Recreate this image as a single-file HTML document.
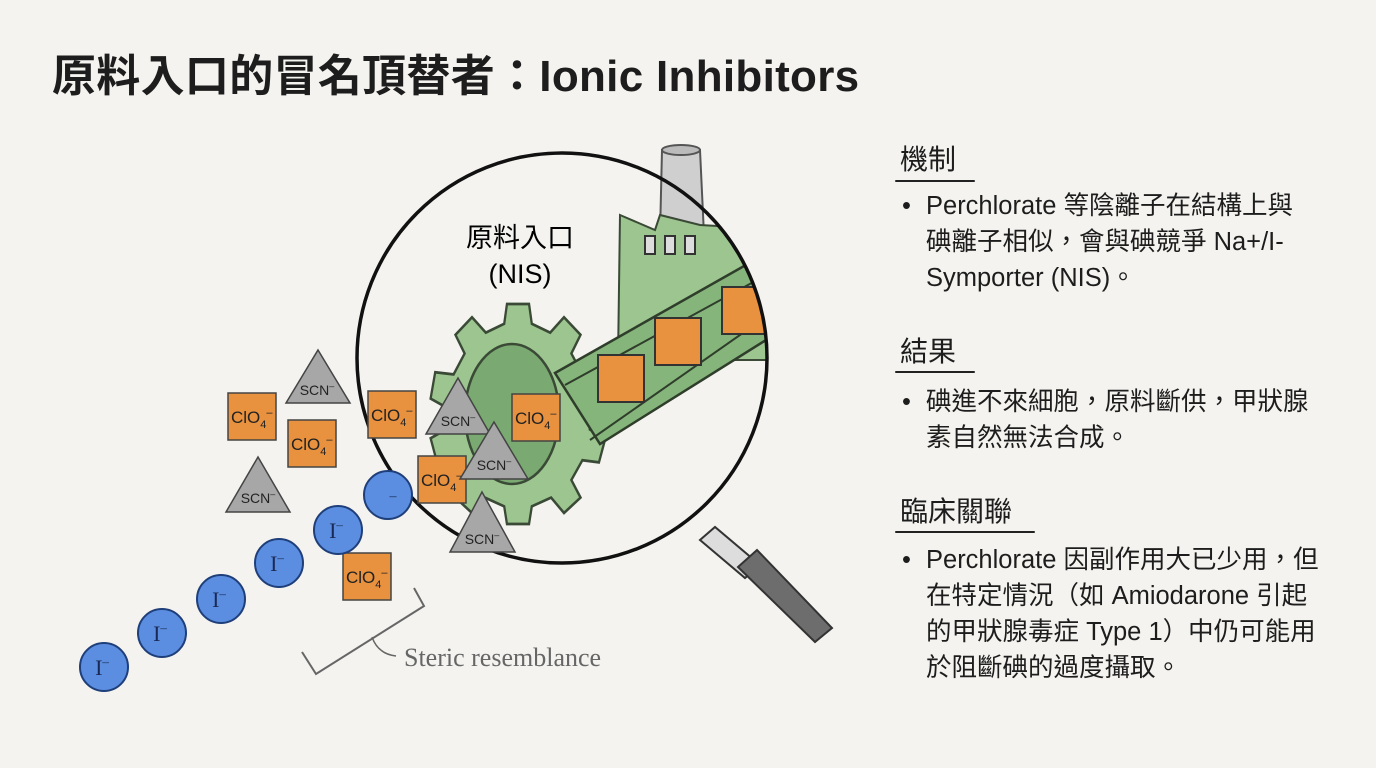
<!DOCTYPE html>
<html><head><meta charset="utf-8"><style>
body{margin:0;width:1376px;height:768px;background:#f4f3ef;overflow:hidden;position:relative;font-family:"Liberation Sans","Noto Sans CJK TC",sans-serif;color:#1d1d1d}
h1{position:absolute;left:52px;top:40px;margin:0;font-size:44px;font-weight:bold;letter-spacing:0.3px;white-space:nowrap}
.h{position:absolute;left:900px;font-size:28px}
.ul{position:absolute;height:2px;background:#222;border-radius:2px}
.b{position:absolute;left:902px;font-size:25.5px;line-height:36px;width:408px}
.b span.d{position:absolute;left:0}
.b div{padding-left:24px}
</style></head><body>
<h1>原料入口的冒名頂替者：Ionic Inhibitors</h1>

<div class="h" style="top:138px">機制</div><div class="ul" style="left:895px;top:180px;width:80px"></div>
<div class="b" style="top:188px"><span class="d">•</span><div>Perchlorate 等陰離子在結構上與碘離子相似，會與碘競爭 Na+/I-Symporter (NIS)。</div></div>

<div class="h" style="top:330px">結果</div><div class="ul" style="left:895px;top:371px;width:80px"></div>
<div class="b" style="top:384px"><span class="d">•</span><div>碘進不來細胞，原料斷供，甲狀腺素自然無法合成。</div></div>

<div class="h" style="top:490px">臨床關聯</div><div class="ul" style="left:895px;top:531px;width:140px"></div>
<div class="b" style="top:542px;width:424px"><span class="d">•</span><div>Perchlorate 因副作用大已少用，但在特定情況（如 Amiodarone 引起的甲狀腺毒症 Type 1）中仍可能用於阻斷碘的過度攝取。</div></div>

<svg width="1376" height="768" style="position:absolute;left:0;top:0" font-family="Liberation Sans, sans-serif">
<defs><clipPath id="lens"><circle cx="562" cy="358" r="205"/></clipPath></defs>
<path d="M662 150 L700 150 L704 235 L660 235 Z" fill="#cfcfcf" stroke="#555" stroke-width="2"/>
<ellipse cx="681" cy="150" rx="19" ry="5" fill="#bbb" stroke="#555" stroke-width="2"/>
<g clip-path="url(#lens)">
<path d="M620 215 L655 230 L660 215 L700 225 L790 230 L790 360 L618 360 Z" fill="#9cc58f" stroke="#3a4a36" stroke-width="2"/>
<rect x="645" y="236" width="10" height="18" fill="#ddd" stroke="#333" stroke-width="2"/>
<rect x="665" y="236" width="10" height="18" fill="#ddd" stroke="#333" stroke-width="2"/>
<rect x="685" y="236" width="10" height="18" fill="#ddd" stroke="#333" stroke-width="2"/>
<g transform="translate(518,414) scale(0.92,1.1)" fill="#9cc58f" stroke="#3a4a36" stroke-width="2.5">
<path d="M-12 -100 L12 -100 L15 -82 L35 -74 L50 -88 L68 -72 L58 -55 L70 -36 L90 -38 L95 -14 L78 -6 L78 14 L95 22 L88 44 L70 42 L58 60 L68 76 L50 90 L36 76 L15 84 L12 100 L-12 100 L-15 84 L-36 76 L-50 90 L-68 76 L-58 60 L-70 42 L-88 44 L-95 22 L-78 14 L-78 -6 L-95 -14 L-90 -38 L-70 -36 L-58 -55 L-68 -72 L-50 -88 L-35 -74 L-15 -82 Z"/>
</g>
<ellipse cx="512" cy="414" rx="47" ry="70" fill="#7aa971" stroke="#3a4a36" stroke-width="2.5"/>
<path d="M555 373 L790 240 L790 325 L600 444 Z" fill="#86b57c" stroke="#2f3d2b" stroke-width="2.5"/>
<path d="M565 385 L790 262 M590 440 L790 300" fill="none" stroke="#2f3d2b" stroke-width="2"/>
<g fill="#e8913f" stroke="#333" stroke-width="2">
<rect x="598" y="355" width="46" height="47"/>
<rect x="655" y="318" width="46" height="47"/>
<rect x="722" y="287" width="46" height="47"/>
</g>
</g>
<path d="M700 540 L745 578 L760 565 L715 527 Z" fill="#ddd" stroke="#333" stroke-width="2"/>
<path d="M738 567 L815 642 L832 628 L757 550 Z" fill="#6d6d6d" stroke="#333" stroke-width="2"/>
<circle cx="562" cy="358" r="205" fill="none" stroke="#111" stroke-width="3.5"/>
<text x="520" y="247" text-anchor="middle" font-size="27" font-family="Liberation Sans, Noto Sans CJK TC, sans-serif">原料入口</text>
<text x="520" y="283" text-anchor="middle" font-size="27">(NIS)</text>
<g font-size="17" fill="#222">
<g fill="#e8913f" stroke="#444" stroke-width="1.5">
<rect x="228" y="393" width="48" height="47"/><rect x="288" y="420" width="48" height="47"/>
<rect x="368" y="391" width="48" height="47"/><rect x="512" y="394" width="48" height="47"/>
<rect x="418" y="456" width="48" height="47"/><rect x="343" y="553" width="48" height="47"/>
</g>
<text x="231" y="423">ClO<tspan font-size="11" dy="5">4</tspan><tspan font-size="11" dy="-12">–</tspan></text>
<text x="291" y="450">ClO<tspan font-size="11" dy="5">4</tspan><tspan font-size="11" dy="-12">–</tspan></text>
<text x="371" y="421">ClO<tspan font-size="11" dy="5">4</tspan><tspan font-size="11" dy="-12">–</tspan></text>
<text x="515" y="424">ClO<tspan font-size="11" dy="5">4</tspan><tspan font-size="11" dy="-12">–</tspan></text>
<text x="421" y="486">ClO<tspan font-size="11" dy="5">4</tspan><tspan font-size="11" dy="-12">–</tspan></text>
<text x="346" y="583">ClO<tspan font-size="11" dy="5">4</tspan><tspan font-size="11" dy="-12">–</tspan></text>
</g>
<g fill="#a7a7a7" stroke="#444" stroke-width="1.5">
<path d="M318 350 L350 403 L286 403 Z"/><path d="M258 457 L290 512 L226 512 Z"/>
<path d="M458 378 L490 434 L426 434 Z"/><path d="M494 422 L528 479 L460 479 Z"/>
<path d="M482 492 L515 552 L450 552 Z"/>
</g>
<g font-size="14" fill="#222" text-anchor="middle">
<text x="317" y="395">SCN<tspan font-size="9" dy="-6">–</tspan></text>
<text x="258" y="503">SCN<tspan font-size="9" dy="-6">–</tspan></text>
<text x="458" y="426">SCN<tspan font-size="9" dy="-6">–</tspan></text>
<text x="494" y="470">SCN<tspan font-size="9" dy="-6">–</tspan></text>
<text x="482" y="544">SCN<tspan font-size="9" dy="-6">–</tspan></text>
</g>
<g fill="#5b8ee0" stroke="#1f3f7a" stroke-width="2">
<circle cx="388" cy="495" r="24"/><circle cx="338" cy="530" r="24"/><circle cx="279" cy="563" r="24"/>
<circle cx="221" cy="599" r="24"/><circle cx="162" cy="633" r="24"/><circle cx="104" cy="667" r="24"/>
</g>
<g font-family="Liberation Serif, serif" font-size="22" fill="#1a2a55" text-anchor="middle">
<text x="393" y="500" font-size="14">–</text>
<text x="336" y="538">I<tspan font-size="13" dy="-9">–</tspan></text>
<text x="277" y="571">I<tspan font-size="13" dy="-9">–</tspan></text>
<text x="219" y="607">I<tspan font-size="13" dy="-9">–</tspan></text>
<text x="160" y="641">I<tspan font-size="13" dy="-9">–</tspan></text>
<text x="102" y="675">I<tspan font-size="13" dy="-9">–</tspan></text>
</g>
<path d="M302 652 L316 674 L424 606 L414 588" fill="none" stroke="#666" stroke-width="2"/>
<path d="M372 637 Q378 654 396 656" fill="none" stroke="#666" stroke-width="1.5"/>
<text x="404" y="666" font-family="Liberation Serif, serif" font-size="26" fill="#666">Steric resemblance</text>
</svg>
</body></html>
